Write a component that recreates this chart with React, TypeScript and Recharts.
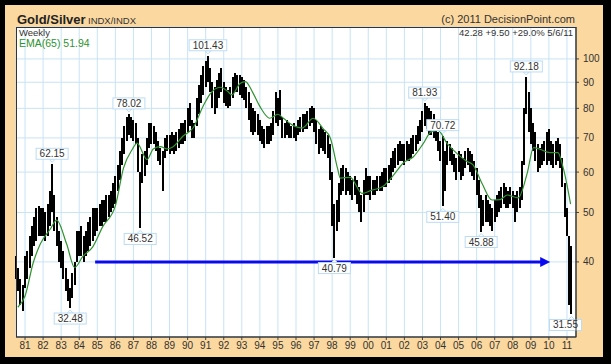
import React from 'react';
import {
  ComposedChart,
  Bar,
  Line,
  Scatter,
  XAxis,
  YAxis,
  CartesianGrid,
  ReferenceLine,
} from 'recharts';

// weekly bars thinned to one every 1/8 year, [low, high]
const START_YEAR = 1980.5;
const STEP = 0.125;

const ratio1980s: [number, number][] = [
  [37, 41], [35, 39], [33, 37], [32, 36],
  [35.5, 41], [37, 42], [39, 45], [41, 47], [43, 49], [44, 51], [45, 51.5], [45, 51],
  [45, 51], [44, 50], [45, 52], [47, 55], [50, 62.15], [46, 54], [43, 49], [40, 46],
  [39, 44], [37, 42], [35, 39], [33.5, 37], [32.48, 35.5], [34, 38], [36, 40], [40, 46],
  [41, 46], [41, 47], [40, 45], [41, 46], [42, 48], [43, 49], [44, 51], [45, 51],
  [46, 51], [47, 52], [47, 53], [48, 53], [48, 54], [49, 54], [50, 55], [51, 57],
  [52, 59], [55, 62], [58, 66], [62, 70], [65, 74], [69, 77], [71, 78.02], [70, 77],
  [69, 76], [68, 75], [60, 70], [46.52, 60], [57, 65], [59, 66], [62, 70], [67, 75],
  [68, 75], [68, 74], [66, 72], [63, 69], [62, 67], [55, 66], [64, 70], [66, 71],
  [65, 71], [66, 72], [65, 71], [66, 72], [67, 73], [68, 75], [68, 75], [69, 76],
];

const ratio1990s: [number, number][] = [
  [72, 80], [74, 82], [70, 76], [70, 75], [74, 84], [78, 89], [82, 93], [85, 97],
  [88, 99], [90, 101.43], [86, 96], [80, 90], [78, 88], [80, 91], [84, 94], [86, 96],
  [82, 90], [81, 88], [80, 87], [81, 88], [84, 92], [86, 94], [86, 93], [85, 93],
  [84, 92], [83, 91], [80, 88], [76, 86], [72, 82], [71, 80], [72, 79], [71, 78],
  [69, 76], [68, 74], [67, 73], [68, 74], [68, 74], [69, 75], [71, 79], [75, 86],
  [74, 84], [76, 87], [70, 77], [70, 75], [71, 76], [70, 75], [70, 74], [70, 75],
  [69, 74], [71, 76], [72, 77], [72, 78], [73, 78], [73, 79], [74, 80], [75, 81],
  [72, 80], [68, 76], [65, 73], [67, 74], [66, 73], [65, 72], [64, 71], [58, 68],
  [47, 60], [40.79, 52], [46, 53], [48, 57], [54, 61], [55, 62], [54, 61], [55, 60],
  [54, 59], [53, 58], [54, 59], [52, 58], [50, 56], [48, 54], [50, 58], [54, 61],
];

const ratio2000s: [number, number][] = [
  [54, 59], [53, 59], [54, 58], [54, 58], [55, 59], [55, 59], [55, 60], [56, 61],
  [56, 61], [57, 62], [58, 64], [60, 66], [61, 67], [62, 68], [63, 69], [63, 68],
  [62, 68], [63, 69], [63, 68], [64, 70], [65, 71], [66, 71], [68, 74], [69, 76],
  [72, 79], [74, 81.93], [73, 81], [71, 80], [71, 79], [70, 78], [69, 75], [66, 72],
  [63, 69], [51.4, 70.72], [55, 66], [62, 69], [63, 68], [62, 67], [60, 65], [58, 64],
  [60, 66], [58, 65], [59, 64], [61, 66], [62, 67], [60, 66], [59, 65], [58, 63],
  [54, 61], [51, 58], [45.88, 54], [47, 53], [48, 54], [48, 53], [47, 52], [46, 51],
  [48, 53], [49, 54], [50, 55], [51, 56], [52, 57], [51, 56], [51, 55], [52, 56],
  [51, 55], [48, 54], [50, 55], [51, 56], [53, 63], [62, 80], [78, 92.18], [72, 86],
  [68, 80], [66, 75], [63, 72], [60, 68], [61, 67], [62, 68], [63, 69], [62, 72],
];

const ratio2010s: [number, number][] = [
  [63, 73], [62, 69], [61, 68], [62, 69], [63, 70], [61, 68], [56, 64], [49, 57],
  [45, 51], [33, 45], [31.55, 43],
];

// EMA(65): [year, value]
const emaPoints: [number, number][] = [
  [1980.6, 32.6], [1981.0, 34.3], [1981.45, 39.8], [1981.85, 43.4], [1982.4, 46.4],
  [1982.75, 48.3], [1983.3, 43.4], [1983.75, 39.0], [1984.2, 41.0], [1984.75, 42.8],
  [1985.3, 46.9], [1986.0, 51.5], [1986.45, 61.1], [1986.95, 66.6], [1987.2, 68.4],
  [1987.75, 63.5], [1988.1, 66.6], [1988.5, 67.3], [1988.85, 66.6], [1989.2, 67.3],
  [1989.75, 70.6], [1990.3, 73.2], [1990.85, 80.7], [1991.25, 85.4], [1991.8, 88.0],
  [1992.2, 86.5], [1992.45, 85.0], [1992.9, 89.5], [1993.2, 90.3], [1993.6, 86.0],
  [1994.0, 80.7], [1994.55, 76.5], [1995.0, 77.9], [1995.3, 76.5], [1995.85, 74.0],
  [1996.35, 73.2], [1996.95, 76.5], [1997.5, 73.0], [1997.9, 70.0], [1998.3, 61.0],
  [1998.45, 58.4], [1999.0, 58.6], [1999.65, 54.5], [2000.2, 55.3], [2000.8, 56.2],
  [2001.4, 59.2], [2001.95, 62.6], [2002.5, 64.3], [2003.05, 68.3], [2003.45, 71.8],
  [2003.85, 72.5], [2004.35, 68.4], [2004.9, 65.3], [2005.45, 63.0], [2005.8, 62.0],
  [2006.3, 57.0], [2006.85, 52.9], [2007.3, 53.0], [2007.7, 54.1], [2008.3, 53.4],
  [2008.8, 59.7], [2009.15, 67.0], [2009.5, 66.5], [2010.05, 65.5], [2010.5, 65.5],
  [2010.8, 61.0], [2011.2, 51.94],
];

// dx nudges a box sideways where the original pulled it inside the frame
const callouts = [
  { t: 1982.5, v: 62.15, side: 'up', dx: 0 },
  { t: 1983.5, v: 32.48, side: 'down', dx: 0 },
  { t: 1986.75, v: 78.02, side: 'up', dx: 0 },
  { t: 1987.375, v: 46.52, side: 'down', dx: 0 },
  { t: 1991.125, v: 101.43, side: 'up', dx: 0 },
  { t: 1998.125, v: 40.79, side: 'down', dx: 0 },
  { t: 2003.125, v: 81.93, side: 'up', dx: 0 },
  { t: 2004.125, v: 70.72, side: 'up', dx: 0 },
  { t: 2004.125, v: 51.4, side: 'down', dx: 0 },
  { t: 2006.25, v: 45.88, side: 'down', dx: 0 },
  { t: 2008.75, v: 92.18, side: 'up', dx: 0 },
  { t: 2011.25, v: 31.55, side: 'down', dx: -6 },
];

const yearTicks = [
  1981, 1982, 1983, 1984, 1985, 1986, 1987, 1988, 1989, 1990, 1991, 1992, 1993, 1994, 1995,
  1996, 1997, 1998, 1999, 2000, 2001, 2002, 2003, 2004, 2005, 2006, 2007, 2008, 2009, 2010, 2011,
];
const priceTicks = [40, 50, 60, 70, 80, 90, 100];

const arrowLevel = 40;
const arrowFrom = 1984.88;
const arrowTo = 2010.07;

const bars = [...ratio1980s, ...ratio1990s, ...ratio2000s, ...ratio2010s].map(([lo, hi], i) => ({
  t: START_YEAR + i * STEP,
  range: [lo, hi],
}));
const emaRows = emaPoints.map(([t, ema]) => ({ t, ema }));

const FONT = '"Liberation Sans", Arial, sans-serif';

// crisp 2px stroke for each high-low bar
function HiLoBar(props: any) {
  const { x, y, width, height } = props;
  if (x == null || y == null) return null;
  const top = height < 0 ? y + height : y;
  const h = Math.max(Math.abs(height), 1);
  const cx = Math.round(x + width / 2);
  return <rect x={cx - 1} y={top} width={2} height={h} fill="#000" shapeRendering="crispEdges" />;
}

function Callout(props: any) {
  const { cx, cy, payload } = props;
  if (cx == null || cy == null) return null;
  const text = payload.v.toFixed(2);
  const w = text.length * 5.6 + 4;
  const h = 11;
  const up = payload.side === 'up';
  const bx = cx + (payload.dx || 0);
  const boxY = up ? cy - 5 - h : cy + 5;
  const tipY = up ? cy - 2 : cy + 2;
  const baseY = up ? boxY + h : boxY;
  return (
    <g>
      <polygon
        points={`${cx - 3},${baseY} ${cx + 3},${baseY} ${cx},${tipY}`}
        fill="#fff"
        stroke="#bcdcf4"
        strokeWidth={1}
      />
      <rect x={bx - w / 2} y={boxY} width={w} height={h} fill="#fff" stroke="#bcdcf4" strokeWidth={1} />
      <text x={bx} y={boxY + 9} textAnchor="middle" fontSize={10} fill="#333" fontFamily={FONT}>
        {text}
      </text>
    </g>
  );
}

function Arrow(props: any) {
  const { x1, y1, x2 } = props;
  if (x1 == null) return null;
  return (
    <g>
      <line x1={x1} y1={y1} x2={x2 - 8} y2={y1} stroke="#0a0af0" strokeWidth={3} />
      <polygon points={`${x2},${y1} ${x2 - 10},${y1 - 5} ${x2 - 10},${y1 + 5}`} fill="#0a0af0" />
    </g>
  );
}

export default function App() {
  return (
    <div
      style={{
        position: 'absolute',
        left: 0,
        top: 0,
        width: 611,
        height: 364,
        background: '#000',
        fontFamily: FONT,
      }}
    >
      <div
        style={{ position: 'absolute', left: 5, top: 5, width: 598, height: 352, background: '#fbd89f' }}
      />
      <div style={{ position: 'absolute', left: 0, top: 0 }}>
        <ComposedChart
          width={611}
          height={364}
          data={bars}
          margin={{ top: 27, right: 5, bottom: 7, left: 16 }}
        >
          <CartesianGrid stroke="#c8e3f7" fill="#ffffff" fillOpacity={1} />
          <XAxis
            type="number"
            dataKey="t"
            domain={[1980.5, 2011.5]}
            ticks={yearTicks}
            interval={0}
            height={20}
            tickSize={3}
            tickMargin={2}
            tick={{ fontSize: 10, fill: '#333', fontFamily: FONT }}
            tickFormatter={(y: number) => String(y % 100).padStart(2, '0')}
            axisLine={{ stroke: '#444' }}
            tickLine={{ stroke: '#444' }}
          />
          <YAxis
            orientation="right"
            scale="log"
            domain={[28.5, 115.5]}
            ticks={priceTicks}
            interval={0}
            width={30}
            tickSize={3}
            tickMargin={4}
            tick={{ fontSize: 10, fill: '#333', fontFamily: FONT, textAnchor: 'start' }}
            axisLine={{ stroke: '#444' }}
            tickLine={{ stroke: '#444' }}
          />
          <Bar
            dataKey="range"
            fill="#000"
            barSize={2}
            shape={(p: any) => <HiLoBar {...p} />}
            isAnimationActive={false}
          />
          <Line
            data={emaRows}
            dataKey="ema"
            type="monotone"
            stroke="#2f932f"
            strokeWidth={1.2}
            dot={false}
            isAnimationActive={false}
          />
          <ReferenceLine
            segment={[
              { x: arrowFrom, y: arrowLevel },
              { x: arrowTo, y: arrowLevel },
            ]}
            shape={(p: any) => <Arrow {...p} />}
          />
          <Scatter data={callouts} dataKey="v" shape={(p: any) => <Callout {...p} />} isAnimationActive={false} />
        </ComposedChart>
      </div>
      <svg
        width={611}
        height={364}
        style={{ position: 'absolute', left: 0, top: 0, pointerEvents: 'none' }}
      >
        <rect x={16.5} y={27.5} width={559.5} height={309.5} fill="none" stroke="#333" strokeWidth={1} />
        <text x={17} y={24} fontSize={13} fontWeight="bold" fill="#222" fontFamily={FONT}>
          Gold/Silver
        </text>
        <text x={88} y={24} fontSize={9.5} fill="#333" fontFamily={FONT}>
          INDX/INDX
        </text>
        <text x={575} y={23} fontSize={11} fill="#333" textAnchor="end" fontFamily={FONT}>
          (c) 2011 DecisionPoint.com
        </text>
        <text x={19} y={36} fontSize={9.5} fill="#333" fontFamily={FONT}>
          Weekly
        </text>
        <text x={19} y={47} fontSize={10.5} fill="#2f932f" fontFamily={FONT}>
          EMA(65) 51.94
        </text>
        <text x={573} y={36} fontSize={9.5} fill="#333" textAnchor="end" fontFamily={FONT}>
          42.28 +9.50 +29.0% 5/6/11
        </text>
      </svg>
    </div>
  );
}
